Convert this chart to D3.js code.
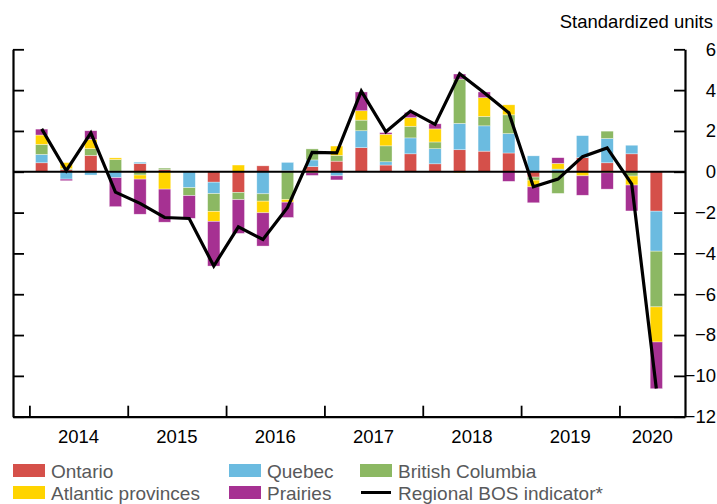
<!DOCTYPE html>
<html lang="en">
<head>
    <meta charset="UTF-8">
    <title>Regional BOS indicator</title>
    <style>
        body {
            margin: 0;
            background: #fff;
            font-family: "Liberation Sans", Arial, Helvetica, sans-serif;
        }
        svg text {
            font-family: "Liberation Sans", Arial, Helvetica, sans-serif;
        }
    </style>
</head>
<body>
    <svg id="chart" width="717" height="504"></svg>

    <script src="https://d3js.org/d3.v7.min.js"></script>
    <script>
        // Data: quarterly contributions, 2014Q1 to 2020Q2
        const quarters = [
            "2014Q1", "2014Q2", "2014Q3", "2014Q4",
            "2015Q1", "2015Q2", "2015Q3", "2015Q4",
            "2016Q1", "2016Q2", "2016Q3", "2016Q4",
            "2017Q1", "2017Q2", "2017Q3", "2017Q4",
            "2018Q1", "2018Q2", "2018Q3", "2018Q4",
            "2019Q1", "2019Q2", "2019Q3", "2019Q4",
            "2020Q1", "2020Q2"
        ];
        const years = ["2014", "2015", "2016", "2017", "2018", "2019", "2020"];

        const ontario  = [0.44, 0.10, 0.80, 0.03, 0.40, 0.10, 0.00, -0.51, -1.01, 0.29, 0.05, 0.25, 0.52, 1.18, 0.33, 0.88, 0.39, 1.08, 1.01, 0.92, -0.26, 0.03, 0.69, 0.44, 0.88, -1.93];
        const quebec   = [0.41, -0.36, -0.16, -0.29, 0.07, 0.00, -0.78, -0.56, 0.00, -1.08, 0.41, 0.33, -0.20, 0.83, 0.16, 0.78, 0.74, 1.29, 1.24, 0.95, 0.78, 0.10, 1.08, 1.19, 0.42, -1.96];
        const bc       = [0.49, 0.05, 0.33, 0.57, -0.16, 0.08, -0.39, -0.87, -0.36, -0.36, -1.36, 0.54, 0.28, 0.52, 0.78, 0.57, 0.33, 2.17, 0.46, 0.92, -0.15, -1.06, 0.00, 0.36, -0.21, -2.73];
        const atlantic = [0.46, 0.30, 0.46, 0.08, -0.20, -0.85, 0.00, -0.49, 0.33, -0.57, -0.13, -0.05, 0.46, 0.46, 0.57, 0.42, 0.64, -0.05, 0.92, 0.49, -0.33, 0.28, -0.20, -0.05, -0.44, -1.72];
        const prairies = [0.29, -0.08, 0.42, -1.42, -1.72, -1.62, -1.11, -2.19, -1.65, -1.63, -0.75, -0.13, -0.20, 0.92, 0.08, 0.26, 0.25, 0.25, 0.28, -0.47, -0.78, 0.28, -0.95, -0.80, -1.27, -2.29];
        const bos      = [2.10, 0.05, 1.90, -1.00, -1.55, -2.24, -2.29, -4.62, -2.70, -3.32, -1.75, 0.95, 0.93, 3.95, 1.96, 2.97, 2.32, 4.80, 3.87, 2.89, -0.74, -0.36, 0.74, 1.17, -0.60, -10.62];

        const yTicks = [6, 4, 2, 0, -2, -4, -6, -8, -10, -12];

        const series = [
            { key: "Ontario", values: ontario, color: "#d5504a" },
            { key: "Quebec", values: quebec, color: "#6bbbe0" },
            { key: "British Columbia", values: bc, color: "#8cb863" },
            { key: "Atlantic provinces", values: atlantic, color: "#ffd400" },
            { key: "Prairies", values: prairies, color: "#a63192" }
        ];

        // table for d3.stack
        const rows = quarters.map((q, i) => {
            const r = { quarter: q, index: i };
            series.forEach(s => { r[s.key] = s.values[i]; });
            return r;
        });

        const svg = d3.select("#chart");

        const plotLeft = 13, plotRight = 685, plotTop = 49.3, plotBottom = 416.7;

        // quarter index scale, a bit of room on both sides
        const x = d3.scaleLinear()
            .domain([-2 / 3, quarters.length + 2 / 3])
            .range([plotLeft, plotRight]);

        const y = d3.scaleLinear()
            .domain([-12, 6])
            .range([plotBottom, plotTop]);

        const qw = x(1) - x(0);
        const barW = qw * 0.5;

        const stack = d3.stack()
            .keys(series.map(s => s.key))
            .offset(d3.stackOffsetDiverging);
        const stacked = stack(rows);

        // bars
        const layers = svg.append("g")
            .selectAll("g")
            .data(stacked)
            .join("g")
            .attr("fill", (d, i) => series[i].color);

        layers.selectAll("rect")
            .data(d => d)
            .join("rect")
            .attr("x", d => x(d.data.index + 0.5) - barW / 2)
            .attr("width", barW)
            .attr("y", d => y(Math.max(d[0], d[1])))
            .attr("height", d => Math.abs(y(d[0]) - y(d[1])))
            .attr("stroke", "#fff")
            .attr("stroke-opacity", 0.6)
            .attr("stroke-width", 0.6);

        // zero line
        svg.append("line")
            .attr("x1", plotLeft).attr("x2", plotRight)
            .attr("y1", y(0)).attr("y2", y(0))
            .attr("stroke", "#000")
            .attr("stroke-width", 2.2);

        // left axis (ticks only)
        svg.append("g")
            .attr("transform", `translate(${plotLeft},0)`)
            .call(d3.axisLeft(y).tickValues(yTicks).tickSize(-11).tickSizeOuter(0).tickFormat(""))
            .call(g => g.select(".domain").attr("stroke-width", 2.2))
            .call(g => g.selectAll(".tick line").attr("stroke-width", 1.8));

        // right axis with labels
        svg.append("g")
            .attr("transform", `translate(${plotRight},0)`)
            .call(d3.axisRight(y).tickValues(yTicks).tickSize(-11).tickSizeOuter(0).tickFormat(d3.format("d")))
            .call(g => g.select(".domain").attr("stroke-width", 2.2))
            .call(g => g.selectAll(".tick line").attr("stroke-width", 1.8))
            .call(g => g.selectAll(".tick text")
                .attr("x", 31)
                .attr("text-anchor", "end")
                .attr("fill", "#000")
                .style("font-size", "18.5px"));

        // bottom axis: ticks at year boundaries
        const yearTicks = d3.range(0, quarters.length, 4);
        svg.append("g")
            .attr("transform", `translate(0,${plotBottom})`)
            .call(d3.axisBottom(x).tickValues(yearTicks).tickSize(-11).tickSizeOuter(0).tickFormat(""))
            .call(g => g.select(".domain").attr("stroke-width", 2.2))
            .call(g => g.selectAll(".tick line").attr("stroke-width", 1.8));

        // year labels, centred in each year (2020 between its start and the axis end)
        svg.append("g")
            .selectAll("text")
            .data(years)
            .join("text")
            .attr("x", (d, i) => {
                const start = i * 4;
                const end = Math.min(start + 4, x.domain()[1]);
                return x((start + end) / 2);
            })
            .attr("y", 443)
            .attr("text-anchor", "middle")
            .style("font-size", "18.5px")
            .attr("fill", "#000")
            .text(d => d);

        // regional BOS indicator line
        const line = d3.line()
            .x((d, i) => x(i + 0.5))
            .y(d => y(d));

        svg.append("path")
            .datum(bos)
            .attr("d", line)
            .attr("fill", "none")
            .attr("stroke", "#000")
            .attr("stroke-width", 3.2)
            .attr("stroke-linejoin", "miter");

        // unit label
        svg.append("text")
            .attr("x", 713)
            .attr("y", 28)
            .attr("text-anchor", "end")
            .style("font-size", "18.5px")
            .attr("fill", "#000")
            .text("Standardized units");

        // legend (second row kept just inside the bottom edge)
        const legendItems = [
            { label: "Ontario", color: series[0].color, type: "box", x: 13, row: 0 },
            { label: "Quebec", color: series[1].color, type: "box", x: 229, row: 0 },
            { label: "British Columbia", color: series[2].color, type: "box", x: 360, row: 0 },
            { label: "Atlantic provinces", color: series[3].color, type: "box", x: 13, row: 1 },
            { label: "Prairies", color: series[4].color, type: "box", x: 229, row: 1 },
            { label: "Regional BOS indicator*", color: "#000", type: "line", x: 360, row: 1 }
        ];

        const legend = svg.append("g")
            .selectAll("g")
            .data(legendItems)
            .join("g")
            .attr("transform", d => `translate(${d.x},${464 + d.row * 22})`);

        legend.filter(d => d.type === "box")
            .append("rect")
            .attr("width", 32)
            .attr("height", 13)
            .attr("fill", d => d.color);

        legend.filter(d => d.type === "line")
            .append("line")
            .attr("x1", 1).attr("x2", 31)
            .attr("y1", 6.5).attr("y2", 6.5)
            .attr("stroke", d => d.color)
            .attr("stroke-width", 3);

        legend.append("text")
            .attr("x", 38)
            .attr("y", 14)
            .style("font-size", "19px")
            .attr("fill", "#58595b")
            .text(d => d.label);
    </script>
</body>
</html>
